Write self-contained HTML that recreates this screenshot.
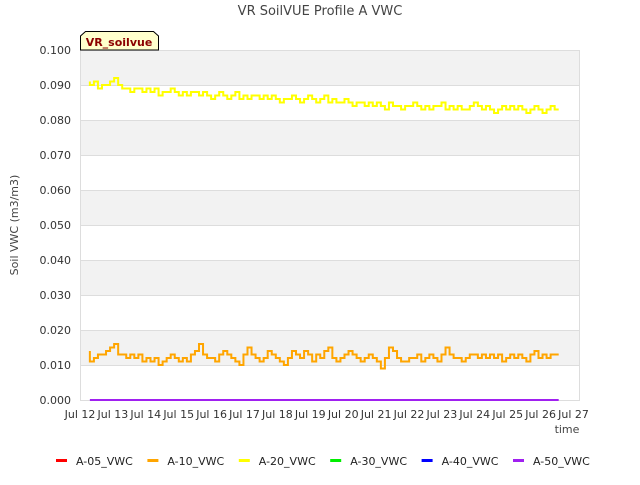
<!DOCTYPE html>
<html><head><meta charset="utf-8"><style>
body{margin:0;background:#fff;font-family:"Liberation Sans","DejaVu Sans",sans-serif}
svg text{font-family:"DejaVu Sans","Liberation Sans",sans-serif}
</style></head><body>
<svg id="c" width="640" height="480">
<text x="320" y="15" text-anchor="middle" font-size="13" fill="#444">VR SoilVUE Profile A VWC</text>
<g id="plot"></g>
<text transform="translate(18,225) rotate(-90)" text-anchor="middle" font-size="11" fill="#444">Soil VWC (m3/m3)</text>
<text x="567" y="433" text-anchor="middle" font-size="11" fill="#444">time</text>
<g>
<path d="M80.5,50 L80.5,36 L85.5,31.5 L153.5,31.5 L158.5,36 L158.5,50 Z" fill="#ffffcc" stroke="#000" stroke-width="1"/>
<text x="119" y="46" text-anchor="middle" font-size="11" font-weight="bold" fill="#8b0000">VR_soilvue</text>
</g>
<g id="legend"></g>
</svg>
<script>
const yTicks=[0,0.01,0.02,0.03,0.04,0.05,0.06,0.07,0.08,0.09,0.1];
const xTickLabels=["Jul 12","Jul 13","Jul 14","Jul 15","Jul 16","Jul 17","Jul 18","Jul 19","Jul 20","Jul 21","Jul 22","Jul 23","Jul 24","Jul 25","Jul 26","Jul 27"];
const seriesNames=["A-05_VWC","A-10_VWC","A-20_VWC","A-30_VWC","A-40_VWC","A-50_VWC"];
const seriesColors=["#ff0000","#ffa500","#ffff00","#00ee00","#0000ff","#a020f0"];
const tStart=0.3, tEnd=14.55;
const a10=[0.014,0.011,0.012,0.013,0.013,0.014,0.015,0.016,0.013,0.013,0.012,0.013,0.012,0.013,0.011,0.012,0.011,0.012,0.010,0.011,0.012,0.013,0.012,0.011,0.012,0.011,0.013,0.014,0.016,0.013,0.012,0.012,0.011,0.013,0.014,0.013,0.012,0.011,0.010,0.013,0.015,0.013,0.012,0.011,0.012,0.014,0.013,0.012,0.011,0.010,0.012,0.014,0.013,0.012,0.014,0.013,0.011,0.013,0.012,0.014,0.015,0.012,0.011,0.012,0.013,0.014,0.013,0.012,0.011,0.012,0.013,0.012,0.011,0.009,0.012,0.015,0.014,0.012,0.011,0.011,0.012,0.012,0.013,0.011,0.012,0.013,0.012,0.011,0.013,0.015,0.013,0.012,0.012,0.011,0.012,0.013,0.013,0.012,0.013,0.012,0.013,0.012,0.013,0.011,0.012,0.013,0.012,0.013,0.012,0.011,0.013,0.014,0.012,0.013,0.012,0.013,0.013];
const a20=[0.091,0.090,0.091,0.089,0.090,0.090,0.091,0.092,0.090,0.089,0.089,0.088,0.089,0.089,0.088,0.089,0.088,0.089,0.087,0.088,0.088,0.089,0.088,0.087,0.088,0.087,0.088,0.088,0.087,0.088,0.087,0.086,0.087,0.088,0.087,0.086,0.087,0.088,0.086,0.087,0.086,0.087,0.087,0.086,0.087,0.086,0.087,0.086,0.085,0.086,0.086,0.087,0.086,0.085,0.086,0.087,0.086,0.085,0.086,0.087,0.085,0.086,0.085,0.085,0.086,0.085,0.084,0.085,0.085,0.084,0.085,0.084,0.085,0.084,0.083,0.085,0.084,0.084,0.083,0.084,0.084,0.085,0.084,0.083,0.084,0.083,0.084,0.084,0.085,0.083,0.084,0.083,0.084,0.083,0.083,0.084,0.085,0.084,0.083,0.084,0.083,0.082,0.083,0.084,0.083,0.084,0.083,0.084,0.083,0.082,0.083,0.084,0.083,0.082,0.083,0.084,0.083];
const a50=a20.map(()=>0.0);
const NS="http://www.w3.org/2000/svg";
const X0=80,X1=580,Y0=400,Y1=50;
function xs(t){return X0+t*32.9;}
function ys(v){return Y0-(v/0.1)*(Y0-Y1);}
const plot=document.getElementById('plot');
function mk(tag,attrs,parent){const e=document.createElementNS(NS,tag);for(const k in attrs)e.setAttribute(k,attrs[k]);(parent||plot).appendChild(e);return e;}
for(let i=0;i<yTicks.length-1;i++){
  if(i%2===1){const r=mk('rect',{x:X0,y:ys(yTicks[i+1]),width:X1-X0,height:ys(yTicks[i])-ys(yTicks[i+1]),fill:'#f2f2f2'});
  
  }
}
yTicks.forEach(v=>{
  const l=mk('line',{x1:X0,x2:X1,y1:ys(v)+0.5,y2:ys(v)+0.5,stroke:'#dddddd'});
  
  
  const t=mk('text',{x:71,y:ys(v)+4,'text-anchor':'end','font-size':'11',fill:'#333'});
  t.textContent=v.toFixed(3);
  
  
});
const fr=mk('rect',{x:X0+0.5,y:Y1+0.5,width:X1-X0-1,height:Y0-Y1,fill:'none',stroke:'#dddddd'});


xTickLabels.forEach((s,i)=>{
  const t=mk('text',{x:xs(i),y:418,'text-anchor':'middle','font-size':'11',fill:'#333'});
  t.textContent=s;
  
  
});
function line(vals,color,name){
  const dt=(tEnd-tStart)/(vals.length-1);
  let d='';
  vals.forEach((v,i)=>{
    const x=xs(tStart+i*dt), y=ys(v);
    if(i===0) d+='M'+x+','+y;
    else d+=' V'+y+' H'+(x);
  });
  const p=mk('path',{d:d,fill:'none',stroke:color,'stroke-width':2,'stroke-linejoin':'miter'});
  
  
}
line(a20,seriesColors[2],'series-a-20-vwc');
line(a10,seriesColors[1],'series-a-10-vwc');
line(a50,seriesColors[5],'series-a-50-vwc');
const lg=document.getElementById('legend');
seriesNames.forEach((n,i)=>{
  const x=56+i*91.4;
  const g=mk('g',{},lg);
  
  
  mk('rect',{x:x,y:459,width:11,height:3,fill:seriesColors[i]},g);
  const t=mk('text',{x:x+20,y:465,'font-size':'11',fill:'#222'},g);
  t.textContent=n;
});
</script>
</body></html>
